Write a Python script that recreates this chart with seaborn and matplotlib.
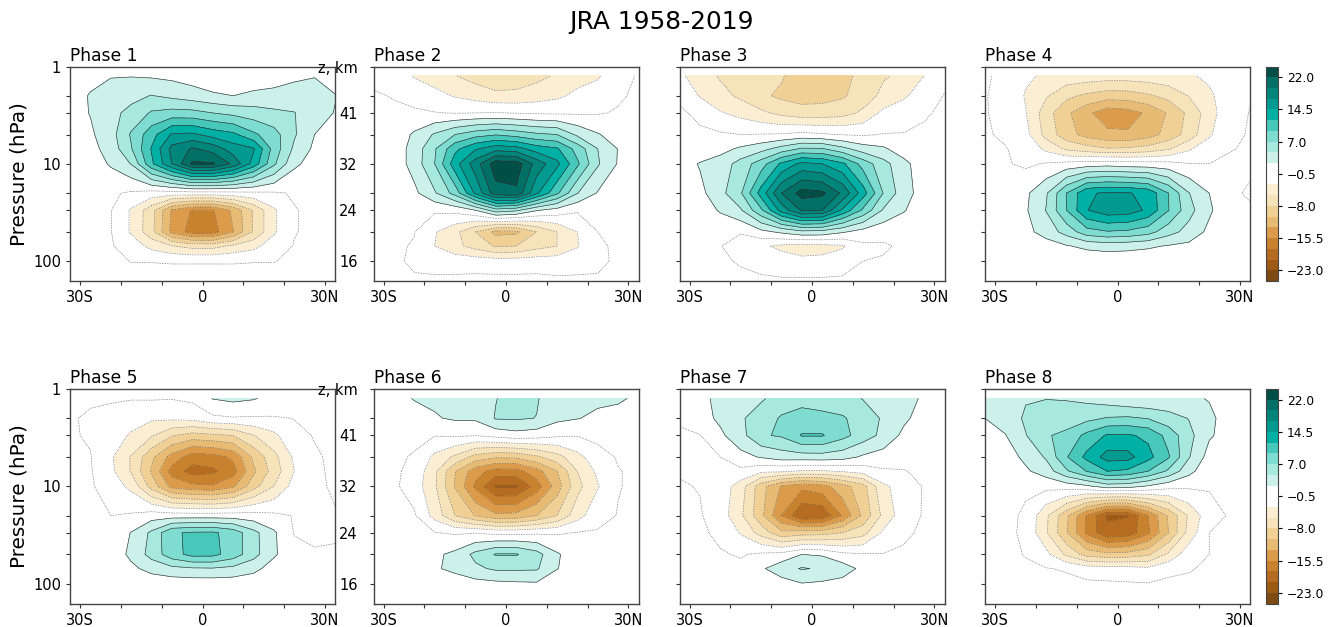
# JRA 1958-2019 temperature composites by phase
import numpy as np
import matplotlib
matplotlib.use('Agg')
import matplotlib.pyplot as plt
import seaborn as sns

lats = [-32.5, -27.5, -22.5, -17.5, -12.5, -7.5, -2.5, 2.5, 7.5, 12.5, 17.5, 22.5, 27.5, 32.5]
pressure = [1.25, 2, 3, 5, 7, 10, 20, 30, 50, 70, 100, 150]

# one line per latitude, values follow the pressure list
phase1 = [
    [.3, .8, 1, .8, .5, .3, 0, -.1, -.1, 0, 0, 0],
    [1.2, 2.2, 2.1, 1.6, 1.2, .6, -.1, -.3, -.2, -.1, -.1, 0],
    [1.85, 3.2, 3.8, 3.5, 3, 2.3, -.2, -.4, -.4, -.3, -.1, 0],
    [1.9, 3.8, 5.2, 7.3, 6.8, 4.6, -.8, -3.3, -3.3, -1.6, -.55, 0],
    [1.7, 4.6, 7.3, 11, 12.2, 11.5, -1.5, -7, -7.2, -3.8, -.55, 0],
    [1.4, 3.9, 7.9, 14.8, 17.8, 17, -1.6, -13.3, -13.7, -5.4, -.6, 0],
    [.8, 3.2, 7.8, 15, 19.8, 22.4, -1.5, -15.7, -16.5, -6.4, -.6, 0],
    [-.2, 2.5, 7, 13.5, 18.5, 22.3, -1.5, -15.7, -16.5, -6.4, -.6, 0],
    [-.5, 2, 6.3, 12.6, 15.7, 19, -1.3, -12.5, -13.1, -5, -.6, 0],
    [0, 2.7, 5.6, 10, 14.8, 13.5, -1, -7.7, -7.7, -3.8, -.55, 0],
    [.8, 2.8, 5, 8, 8.5, 7.5, -.8, -3.4, -3.4, -1.6, -.55, 0],
    [1.6, 2.9, 4.6, 4.8, 4, 2.5, -.3, -.6, -.6, -.4, -.2, 0],
    [1.9, 3, 3, 2, 1.5, 1, 0, -.1, -.1, 0, 0, 0],
    [1, 2.1, 1.9, 1, .8, .5, 0, 0, 0, 0, 0, 0],
]
phase2 = [
    [-1, -.3, -.1, .1, .2, .2, .1, 0, 0, 0, 0, 0],
    [-1.4, -.6, -.2, .3, .5, .5, .2, 0, -.1, -.1, -.1, 0],
    [-3.2, -1.2, -.2, 2.4, 3, 3, 1.4, -.1, -.4, -.7, -.9, -.3],
    [-4.2, -2.2, -.4, 4.8, 6.7, 7, 4.2, -.1, -2.8, -3, -1.2, -.3],
    [-5.4, -3.2, -.6, 7, 11.3, 13.5, 8, .2, -4.8, -4.8, -1.5, -.2],
    [-6.5, -4, -.5, 8.5, 14.2, 18.3, 15, 2, -8, -6.5, -1.6, -.1],
    [-7.5, -4.8, -.4, 9.3, 16, 23.4, 21, 5.9, -11.2, -8.3, -1.8, -.1],
    [-7, -4.8, -.6, 8.5, 15.5, 23.4, 21.5, 5, -11, -8, -1.8, -.1],
    [-6.2, -4.2, -.8, 7.5, 13.3, 18.5, 15, 2.2, -8, -6.5, -1.6, -.1],
    [-5.2, -3.5, -.9, 7, 12.3, 15.2, 10, 1, -5.5, -5.5, -1.6, -.3],
    [-4, -2.4, -.8, 4, 8.5, 10, 4.6, -.2, -3, -3.2, -1.3, -.3],
    [-3.3, -1.8, -.7, 2.2, 4.5, 4.8, 1.8, -.2, -.5, -.9, -1, -.3],
    [-1.4, -.8, -.3, .8, 1.9, 1.8, .5, 0, -.1, -.1, -.1, 0],
    [-.3, -.1, 0, .2, .3, .3, .1, 0, 0, 0, 0, 0],
]
phase3 = [
    [-2.6, -.9, -.2, 0, .2, .7, .3, 0, 0, 0, 0, 0],
    [-4, -3.2, -.9, -.2, .2, 2.2, 1.3, .4, 0, 0, 0, 0],
    [-5.8, -4.6, -2.8, -.2, 1.2, 3.1, 3.7, 2.3, -.1, -.4, -.2, 0],
    [-6.4, -6, -3.8, -.5, 2.4, 5.5, 6.7, 4.2, -.3, -1.6, -.7, -.1],
    [-7, -7.5, -5, -.4, 3.6, 8.3, 13, 9, 1.3, -2.6, -1.2, -.3],
    [-7.7, -8.5, -6.2, -.3, 5.5, 12.5, 19.5, 15.5, 2.5, -3.5, -2, -.4],
    [-9.8, -9, -7, .2, 7.3, 15.2, 23, 19.8, 3.8, -4, -2.5, -.4],
    [-9.6, -8.9, -6.9, -.2, 7.2, 14.5, 22.5, 19.5, 3.6, -3.7, -2.5, -.4],
    [-8.4, -8.3, -6.5, -.6, 5.2, 12.5, 19, 14, 2.3, -3.3, -1.7, -.3],
    [-7.6, -6.9, -5, -.8, 3.2, 8.5, 13.2, 9, 1, -1, -.5, -.1],
    [-5.8, -4.8, -2.4, -.4, 2.4, 5.4, 6.9, 4.2, .3, -.8, -.3, 0],
    [-4.8, -3.4, -1.6, -.4, .6, 2.8, 3, 2.2, .1, -.1, 0, 0],
    [-3, -1.7, -.7, -.2, .1, .4, .9, .4, 0, 0, 0, 0],
    [-1, -.4, -.2, 0, 0, .1, .2, .1, 0, 0, 0, 0],
]
phase4 = [
    [-.3, -.4, -.4, -.3, -.2, -.1, 0, 0, 0, 0, 0, 0],
    [-.9, -1.1, -1, -.8, -.4, -.3, .2, .3, .1, 0, 0, 0],
    [-2.6, -3.2, -2.9, -2.2, -1.2, -.9, 1.5, 1.7, 1.3, .1, 0, 0],
    [-3.4, -5.2, -6.9, -6.4, -3.6, -.3, 4.2, 4.6, 3, .9, 0, 0],
    [-3.9, -7.4, -10, -9.5, -6, .3, 9.5, 9.5, 5.5, 1.8, .1, 0],
    [-4.1, -8.5, -12.4, -11.4, -7, .7, 14.2, 14.4, 8.5, 2.6, .2, 0],
    [-4.3, -9.3, -14.5, -12.4, -7.8, 1, 14.8, 16, 9.3, 3, .3, 0],
    [-4.3, -9.2, -14, -12.7, -7.6, .6, 14.7, 15.8, 9, 2.8, .3, 0],
    [-4.1, -8.4, -12.6, -11.6, -7, .5, 13.8, 14, 8, 2.4, .2, 0],
    [-3.8, -7.2, -10.2, -9.6, -5.8, .3, 9.5, 9.6, 5.5, 1.8, .1, 0],
    [-3.4, -5.4, -7.4, -7, -3.4, -.4, 4.6, 5.4, 3.6, 1.4, 0, 0],
    [-2.4, -3.6, -4.2, -3.4, -1.5, -.5, 2, 2.4, 1.4, .2, 0, 0],
    [-1, -1.2, -1.1, -.8, -.6, -.2, -.2, .2, 0, 0, 0, 0],
    [-.7, -.6, -.45, -.4, -.3, -.2, -.7, -.3, 0, 0, 0, 0],
]
phase5 = [
    [0, -.3, -.3, -.2, -.1, 0, 0, 0, 0, 0, 0, 0],
    [-.2, -.8, -.7, -.4, -.3, -.2, 0, 0, 0, 0, 0, 0],
    [-.3, -1.1, -1.4, -2.6, -2.4, -1.7, -.5, .2, .3, .1, 0, 0],
    [-.4, -1.6, -3.4, -5.7, -5.7, -3.6, -.2, 2.1, 2.6, 1.4, 0, 0],
    [-.3, -2.6, -5.2, -9.9, -10.8, -9, .8, 5, 5.4, 2.9, .3, 0],
    [-.4, -2.5, -7.8, -14, -16.5, -13.8, .8, 9.2, 8.5, 3.8, .5, .1],
    [0, -2.2, -9, -16.8, -19, -14.8, .8, 9.8, 10.3, 4.2, .6, .1],
    [2.1, -1, -8.5, -16.5, -18.5, -15.2, .8, 9.9, 10.2, 4.3, .6, .1],
    [2.6, -.7, -8, -15, -16.5, -13.5, .8, 8.5, 8.4, 3.8, .6, .1],
    [2.2, -.8, -5.6, -10, -11, -9, .5, 5.3, 5.4, 2.8, .3, 0],
    [1.2, -.7, -3.6, -6.3, -6.9, -5.5, 0, 2.4, 2.4, .8, 0, 0],
    [.6, -.45, -1, -2.6, -3, -2, -.6, -.6, .1, 0, 0, 0],
    [0, -.2, -.4, -.7, -.8, -.8, -.8, -.7, -.4, 0, 0, 0],
    [0, 0, -.1, -.2, -.2, -.3, -.6, -.6, -.4, 0, 0, 0],
]
phase6 = [
    [1, .6, .1, 0, 0, 0, 0, 0, 0, 0, 0, 0],
    [1.4, .9, .2, -.1, -.1, -.1, 0, 0, 0, 0, 0, 0],
    [2.1, 1.2, 0, -.7, -1.2, -1.6, -.2, 0, 0, 0, 0, 0],
    [2.4, 1.8, -.4, -3.6, -4.9, -5.1, -3.9, -.4, 1.5, 1.6, 0, 0],
    [2.9, 2.3, -.2, -6, -10.4, -10.7, -8, -.8, 2.6, 2.8, .3, 0],
    [3.7, 2.4, -.4, -9, -14.5, -16, -10.6, -.6, 5.2, 4, 1.1, 0],
    [4.4, 4.7, .3, -10.2, -16.5, -20.8, -12.4, -1.2, 7.2, 4.9, 1.4, .1],
    [5.7, 4.8, 1, -10, -16.5, -20.8, -12.2, -1.2, 7.2, 4.9, 1.6, .1],
    [4.7, 4.45, .6, -8.5, -14, -16.8, -10.5, -.9, 5.5, 4.8, 1.7, .1],
    [3.1, 2.6, -.1, -6.5, -10.6, -11.8, -8, -.8, 2.3, 2.1, .4, 0],
    [2.6, 2.1, -.4, -3.8, -5.5, -6.3, -4, -.4, .6, .8, 0, 0],
    [2.5, 1.5, .2, -1.5, -2.5, -3.2, -1.3, -.3, 0, 0, 0, 0],
    [2.4, 1, .2, -.3, -.6, -.6, -.4, 0, 0, 0, 0, 0],
    [1.5, .7, .2, -.1, -.1, -.1, 0, 0, 0, 0, 0, 0],
]
phase7 = [
    [.8, -.2, -.8, -1, -.7, -.3, -.1, 0, 0, 0, 0, 0],
    [1.4, 1, -.6, -.9, -.7, -.6, -.3, -.1, 0, 0, 0, 0],
    [2.6, 2.5, 1.5, -.5, -.8, -1.5, -1.7, -1, -.3, 0, 0, 0],
    [3.2, 4.2, 3.6, 1.2, -1.1, -4.3, -5, -3.2, -.7, 0, 0, 0],
    [4.2, 5.6, 6.7, 2.2, -2.5, -9.5, -9.8, -6.5, -.1, 1.6, .1, 0],
    [5.5, 7.3, 7.3, 3.2, -2.6, -13.2, -15.5, -9.9, .3, 3.5, .9, 0],
    [6.3, 7.8, 9.7, 3.3, -3.3, -14.8, -20.3, -9.2, 2, 4.7, 1.9, .1],
    [5.8, 7.7, 9.7, 3.4, -3.3, -14, -20, -9, 1.7, 4.2, 1.6, .1],
    [5.3, 7.3, 7.8, 3, -2.8, -11.5, -15.2, -8, .1, 3.3, 1.1, 0],
    [4.4, 5.8, 5.8, 1.6, -2, -9, -10, -6.5, -.3, 1.3, 0, 0],
    [3.5, 4.2, 3.8, .9, -.8, -3.5, -4.8, -2.5, -.4, 0, 0, 0],
    [3, 2.5, 1.4, .2, -.6, -1.9, -1.6, -1, -.1, 0, 0, 0],
    [1.6, .9, .4, .1, -.1, -.3, -.3, 0, 0, 0, 0, 0],
    [.6, .3, .1, 0, 0, 0, 0, 0, 0, 0, 0, 0],
]
phase8 = [
    [3, 2, 1, .4, .1, 0, 0, 0, 0, 0, 0, 0],
    [3.2, 3, 1.9, .8, .3, 0, 0, 0, 0, 0, 0, 0],
    [4.3, 4.9, 4.4, 2.6, 1.6, -.2, -.8, -.9, -.6, -.2, 0, 0],
    [4.42, 6, 6.7, 4.8, 3.2, .2, -5, -5.2, -2.3, -.4, 0, 0],
    [4.38, 5.4, 7.8, 9.3, 6.6, .7, -10, -10.3, -6, -.7, 0, 0],
    [3.9, 6.3, 10.2, 12.7, 9.6, 1.5, -15.8, -16, -9, -1.7, -.1, 0],
    [3.15, 7.2, 12.3, 15.5, 12, 3.2, -20.7, -20.1, -9.8, -1.8, -.2, 0],
    [2.43, 7.4, 12.3, 15.4, 11.5, 3, -20.6, -19.5, -9.5, -2, -.3, 0],
    [2.1, 6.9, 11.5, 12.8, 9.5, 1.7, -15.5, -16, -8.5, -2.5, -.4, 0],
    [2.6, 5.5, 8.6, 9.8, 6.5, .4, -10.2, -10.5, -5, -1.2, 0, 0],
    [2.3, 4.4, 5.3, 4.7, 2.8, -.1, -5.1, -4.6, -1.5, -.7, 0, 0],
    [1.9, 2.4, 2.3, 1, .2, -.3, -1.4, -.5, -.5, -.1, 0, 0],
    [1.2, 1.2, 1, .4, .1, 0, -.3, -.2, 0, 0, 0, 0],
    [.5, .5, .4, .2, .1, 0, 0, 0, 0, 0, 0, 0],
]

levels = [-25.5, -23, -20.5, -18, -15.5, -13, -10.5, -8, -5.5, -3, -.5,
          2, 4.5, 7, 9.5, 12, 14.5, 17, 19.5, 22, 24.5]
cbar_ticks = [-23, -15.5, -8, -.5, 7, 14.5, 22]
band_colors = ['#7d4a13', '#9c5a14', '#b56c21', '#c8812d', '#dc9b4b', '#e8bb74',
               '#f0d095', '#f7e3b9', '#fbeed3', '#ffffff', '#ffffff', '#ccf0ea',
               '#a7e8df', '#7edcd1', '#48c8bb', '#00b0a5', '#009a90', '#00857b',
               '#006f66', '#004f47']

lat_ticks = [-30, -20, -10, 0, 10, 20, 30]
lat_labels = ['30S', '', '', '0', '', '', '30N']
p_ticks = [1, 2, 3, 5, 10, 20, 30, 50, 100]
p_labels = ['1', '', '', '', '10', '', '', '', '100']
z_labels = ['z, km', '', '41', '', '32', '', '24', '', '16']

sns.set_style('ticks', {'text.color': 'black', 'xtick.color': 'black', 'ytick.color': 'black',
                        'axes.labelcolor': 'black'})
plt.rcParams['font.family'] = 'DejaVu Sans'
plt.rcParams['contour.negative_linestyle'] = 'dotted'
palette = sns.color_palette(band_colors)

W, H = 1336, 627
fig = plt.figure(figsize=(W / 100, H / 100), dpi=100)
fig.text(661 / W, 1 - 22 / H, 'JRA 1958-2019', fontsize=17.9, ha='center', va='center')

lefts = [70, 373.5, 679.5, 985]
tops = [66.5, 389]
panels = [phase1, phase2, phase3, phase4, phase5, phase6, phase7, phase8]

for i, data in enumerate(panels):
    row, col = i // 4, i % 4
    x0, y0 = lefts[col], tops[row]
    ax = fig.add_axes([x0 / W, 1 - (y0 + 214.5) / H, 265 / W, 214.5 / H])
    z = np.array(data).T
    y = np.log10(pressure)
    cf = ax.contourf(lats, y, z, levels=levels, colors=palette)
    ax.contour(lats, y, z, levels=levels, colors='#333333', linewidths=0.45)
    ax.set_xlim(-32.5, 32.5)
    ax.set_ylim(np.log10(160), 0)
    ax.set_xticks(lat_ticks)
    ax.set_xticklabels(lat_labels, fontsize=10.5)
    ax.set_yticks(np.log10(p_ticks))
    if col == 0:
        ax.set_yticklabels(p_labels, fontsize=10.5)
        ax.set_ylabel('Pressure (hPa)', fontsize=14.4, labelpad=3)
    elif col == 1:
        ax.set_yticklabels(z_labels, fontsize=10.5)
        ax.tick_params(axis='y', pad=8.5)
    else:
        ax.set_yticklabels([])
    ax.tick_params(length=3, width=0.8, color='#333333')
    for s in ax.spines.values():
        s.set_linewidth(1)
        s.set_color('#444444')
    ax.set_title('Phase %d' % (i + 1), loc='left', fontsize=12.3, pad=4)

    if col == 3:
        cax = fig.add_axes([1266 / W, 1 - (y0 + 214.5) / H, 12 / W, 214.5 / H])
        cb = fig.colorbar(cf, cax=cax, ticks=cbar_ticks)
        cb.ax.tick_params(labelsize=8.8, length=3, width=0.8)
        cb.outline.set_edgecolor('#444444')

fig.savefig('out.png', dpi=100)
